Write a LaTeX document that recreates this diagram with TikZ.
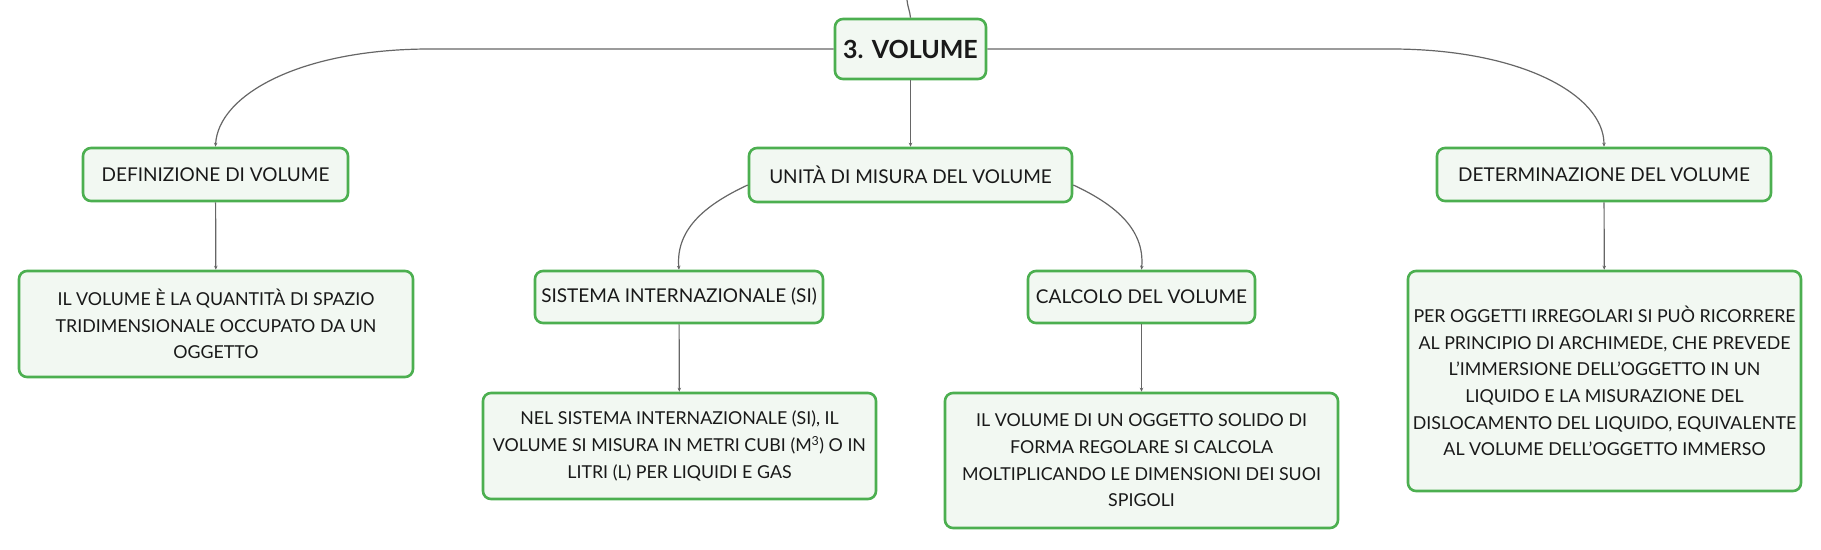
\documentclass[tikz,border=0pt]{standalone}
\usepackage{fontspec}
\setmainfont{Lato}
\usepackage{xcolor}
\usetikzlibrary{arrows.meta,positioning}
\definecolor{boxgreen}{HTML}{4CAF50}
\definecolor{boxfill}{HTML}{F2F8F2}
\definecolor{linkgray}{HTML}{666666}
\tikzset{
	topic/.style={
			draw=boxgreen, fill=boxfill, line width=2.6pt, rounded corners=8pt,
			text=black!90, font=\fontsize{19}{26.7}\selectfont, align=center, inner sep=0pt
		},
	note/.style={
			topic, font=\fontsize{17.8}{26.7}\selectfont
		},
	link/.style={
			draw=linkgray, line width=1.2pt, -{Stealth[length=4pt,width=3.5pt]}
		}
}

\begin{document}
\begin{tikzpicture}[x=1pt, y=-1pt]
	\useasboundingbox (0,0) rectangle (1821,549);
	\coordinate (top) at (907,0);
	\node[topic, minimum width=151pt, minimum height=60pt, font=\fontsize{25}{28}\selectfont\bfseries] (vol) at (910.5,49) {3. VOLUME};

	\node[topic, minimum width=265pt, minimum height=53pt] (def) at (215.5,174.5) {DEFINIZIONE DI VOLUME};
	\node[topic, minimum width=323pt, minimum height=54pt] (uni) at (910.5,175) {UNITÀ DI MISURA DEL VOLUME};
	\node[topic, minimum width=334pt, minimum height=53pt] (det) at (1604,174.5) {DETERMINAZIONE DEL VOLUME};

	\node[topic, minimum width=288pt, minimum height=52pt] (si) at (679,297) {SISTEMA INTERNAZIONALE (SI)};
	\node[topic, minimum width=227pt, minimum height=52pt] (calc) at (1141.5,297) {CALCOLO DEL VOLUME};

	\node[note, minimum width=394pt, minimum height=106pt] (defT) at (216,324)
	{IL VOLUME È LA QUANTITÀ DI SPAZIO\\TRIDIMENSIONALE OCCUPATO DA UN\\OGGETTO};
	\node[note, minimum width=393pt, minimum height=106pt] (siT) at (679.5,446)
	{NEL SISTEMA INTERNAZIONALE (SI), IL\\VOLUME SI MISURA IN METRI CUBI (M\textsuperscript{3}) O IN\\LITRI (L) PER LIQUIDI E GAS};
	\node[note, minimum width=393pt, minimum height=135pt] (calcT) at (1141.5,460.5)
	{IL VOLUME DI UN OGGETTO SOLIDO DI\\FORMA REGOLARE SI CALCOLA\\MOLTIPLICANDO LE DIMENSIONI DEI SUOI\\SPIGOLI};
	\node[note, minimum width=393pt, minimum height=220pt] (detT) at (1604.5,381)
	{PER OGGETTI IRREGOLARI SI PUÒ RICORRERE\\AL PRINCIPIO DI ARCHIMEDE, CHE PREVEDE\\L’IMMERSIONE DELL’OGGETTO IN UN\\LIQUIDO E LA MISURAZIONE DEL\\DISLOCAMENTO DEL LIQUIDO, EQUIVALENTE\\AL VOLUME DELL’OGGETTO IMMERSO};

	\draw[draw=linkgray, line width=1.2pt] (top) to[out=-85, in=95] (vol.north);
	\draw[link] (vol.west) -- (430,49) .. controls (300,49) and (218,95) .. (def.north);
	\draw[link] (vol.east) -- (1391,49) .. controls (1521,49) and (1604,95) .. (det.north);
	\draw[link] (vol) -- (uni);
	\draw[link] (uni.west |- 0,185) to[out=205, in=95] (si.north);
	\draw[link] (uni.east |- 0,185) to[out=-25, in=85] (calc.north);
	\draw[link] (def) -- (defT);
	\draw[link] (si) -- (siT);
	\draw[link] (calc) -- (calcT);
	\draw[link] (det) -- (detT);
\end{tikzpicture}
\end{document}
